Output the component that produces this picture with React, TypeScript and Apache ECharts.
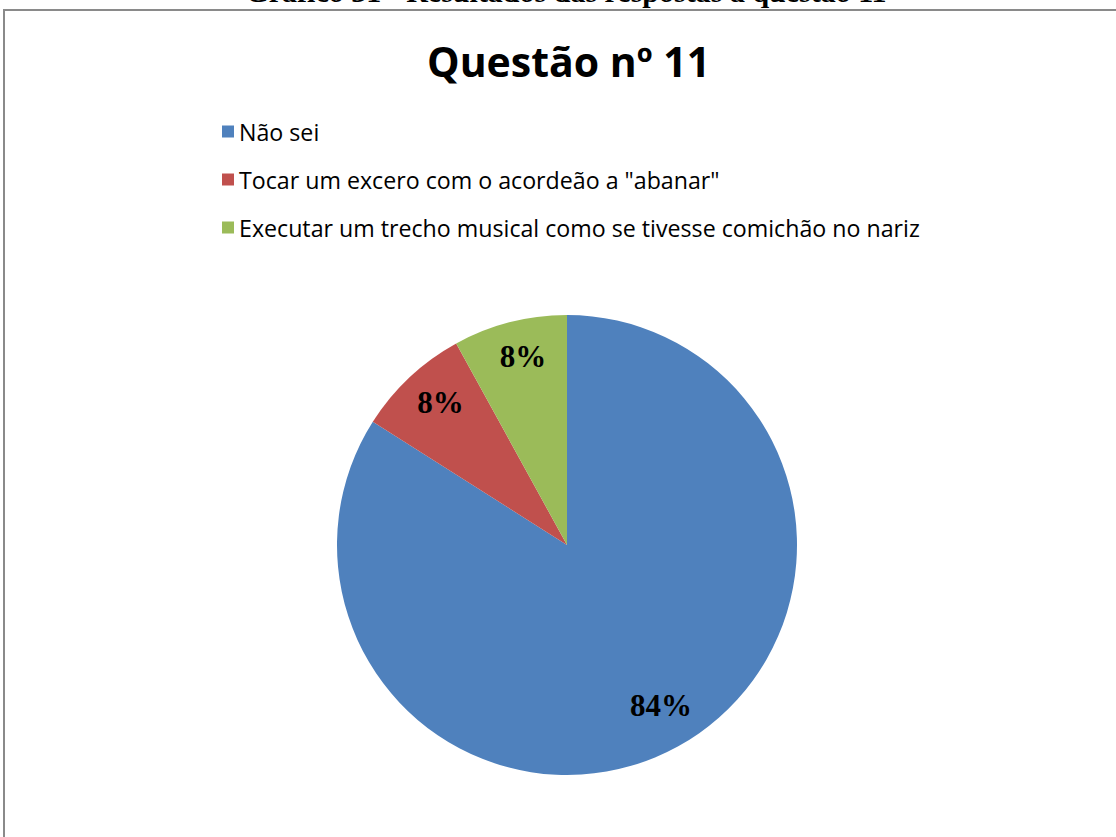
import React, { useEffect, useRef } from "react";
import * as echarts from "echarts";

const captionText = "Gráfico 31 - Resultados das respostas à questão 11";
const chartTitle = "Questão nº 11";
const categories = [
  "Não sei",
  'Tocar um excero com o acordeão a "abanar"',
  "Executar um trecho musical como se tivesse comichão no nariz",
];
const values = [84, 8, 8];
const colors = ["#4F81BD", "#C0504D", "#9BBB59"];

export default function App() {
  const ref = useRef<HTMLDivElement>(null);
  useEffect(() => {
    if (!ref.current) return;
    const chart = echarts.init(ref.current, null, { renderer: "svg" });
    const data = categories.map((name, i) => ({ name, value: values[i] }));
    chart.setOption({
      animation: false,
      backgroundColor: "#ffffff",
      color: colors,
      title: {
        text: chartTitle,
        left: 422,
        top: 35,
        textStyle: { fontFamily: "'Open Sans'", fontWeight: "bold", fontSize: 41, color: "#000" },
      },
      legend: {
        orient: "vertical",
        left: 222,
        top: 120,
        padding: 0,
        icon: "rect",
        itemWidth: 12,
        itemHeight: 12,
        itemGap: 25,
        data: categories,
        textStyle: { fontFamily: "'Open Sans'", fontSize: 23.2, color: "#000", lineHeight: 23 },
        selectedMode: false,
      },
      graphic: [
        {
          type: "rect",
          shape: { x: 4, y: 10, width: 1200, height: 900 },
          style: { fill: "none", stroke: "#8a8a8a", lineWidth: 2 },
          silent: true,
        },
        {
          type: "text",
          x: 566,
          y: -24,
          style: {
            text: captionText,
            font: "bold 30px 'Liberation Serif', 'Times New Roman', serif",
            fill: "#000",
            textAlign: "center",
            textVerticalAlign: "top",
          },
          silent: true,
        },
      ],
      series: [
        {
          type: "pie",
          center: [567, 545],
          radius: [0, 230],
          startAngle: 90,
          clockwise: true,
          data,
          label: { show: false },
          labelLine: { show: false },
          itemStyle: { borderColor: "#ffffff", borderWidth: 0 },
          emphasis: { disabled: true },
        },
        {
          type: "pie",
          center: [567, 545],
          radius: [0, 372],
          startAngle: 90,
          clockwise: true,
          data,
          silent: true,
          itemStyle: { color: "rgba(0,0,0,0)" },
          label: {
            show: true,
            position: "inside",
            formatter: "{c}%",
            fontFamily: "'Liberation Serif', 'Times New Roman', serif",
            fontWeight: "bold",
            fontSize: 31,
            color: "#000",
            offset: [3, -5],
          },
          labelLine: { show: false },
          emphasis: { disabled: true },
        },
      ],
    });
    return () => chart.dispose();
  }, []);
  return (
    <div
      ref={ref}
      style={{ position: "absolute", left: 0, top: 0, width: 1116, height: 837 }}
    />
  );
}
